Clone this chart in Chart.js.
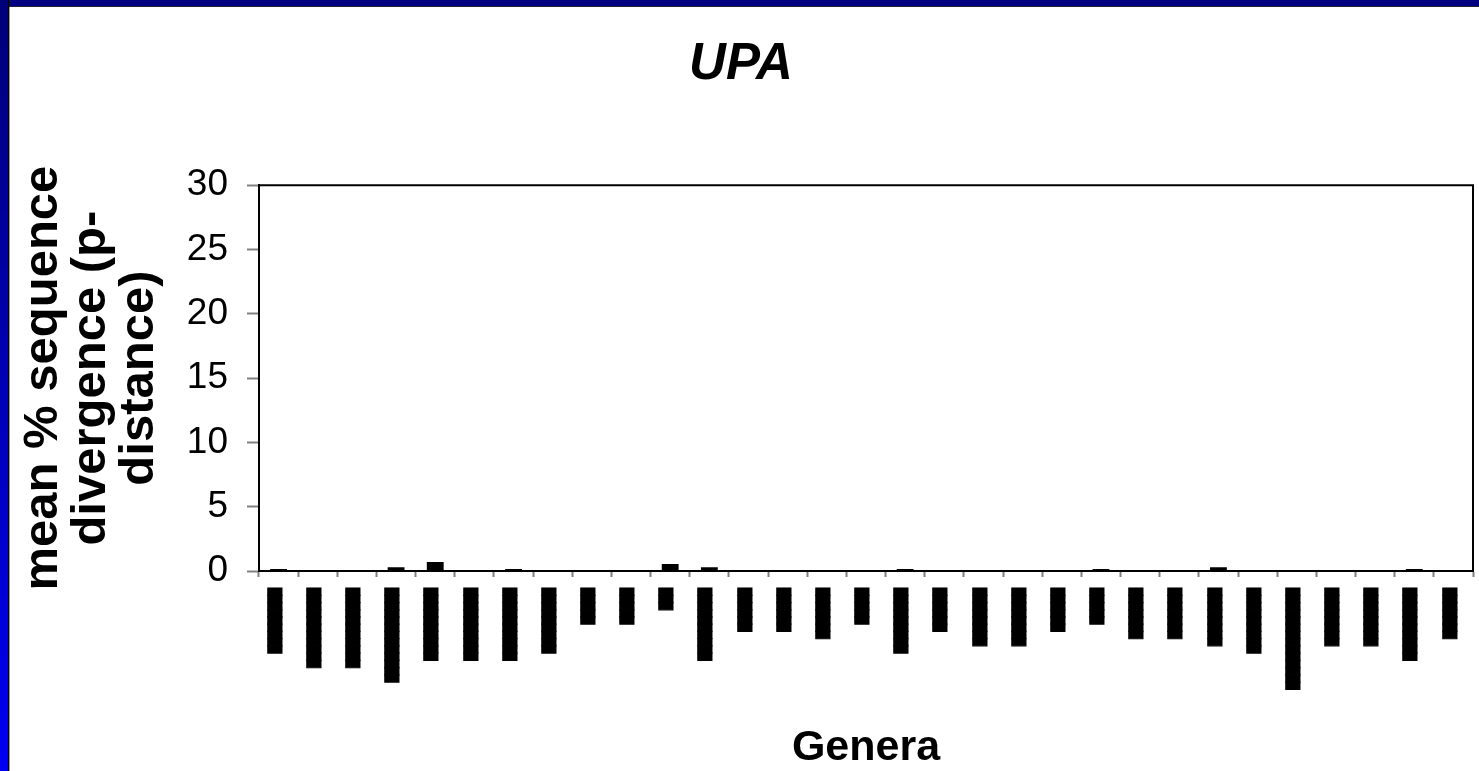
<!DOCTYPE html>
<html>
<head>
<meta charset="utf-8">
<script src="https://cdn.jsdelivr.net/npm/chart.js@4/dist/chart.umd.min.js"></script>
<style>
  html, body { margin: 0; padding: 0; }
  body { width: 1479px; height: 771px; overflow: hidden; background: #ffffff; position: relative; }
  #topband { position: absolute; left: 0; top: 0; width: 1479px; height: 6px; background: #000080; border-bottom: 1px solid #20203a; }
  #leftband { position: absolute; left: 0; top: 0; width: 8px; height: 771px; background: linear-gradient(#000078, #0000f2); border-right: 1px solid #000; }
  #leftline { position: absolute; left: 9px; top: 7px; width: 1px; height: 764px; background: #9a9a9a; }
  #wrap { position: absolute; left: 9px; top: 7px; width: 1470px; height: 764px; }
</style>
</head>
<body>
<div id="topband"></div>
<div id="leftband"></div>
<div id="leftline"></div>
<div id="wrap"><canvas id="c"></canvas></div>
<script>
// Chart title and axis titles
const chartTitle = 'UPA';
const yTitle = ['mean % sequence', 'divergence (p-', 'distance)'];
const xTitle = 'Genera';

// Genus names are illegible (blacked out) in the source; kept as block-character text
const generaLabels = [
  '█████████', '███████████', '███████████', '█████████████', '██████████',
  '██████████', '██████████', '█████████', '█████', '█████',
  '███', '██████████', '██████', '██████', '███████',
  '█████', '█████████', '██████', '████████', '████████',
  '██████', '█████', '███████', '███████', '████████',
  '█████████', '██████████████', '████████', '████████', '██████████',
  '███████'
];

// mean % sequence divergence per genus
const divergence = [
  0.15, 0, 0, 0.3, 0.7, 0, 0.15, 0, 0, 0,
  0.55, 0.3, 0, 0, 0, 0, 0.15, 0, 0, 0,
  0, 0.15, 0, 0, 0.3, 0, 0, 0, 0, 0.15,
  0
];

// y-axis tick values
const yTicks = [0, 5, 10, 15, 20, 25, 30];

const frame = {
  id: 'frame',
  afterDraw(chart) {
    const a = chart.chartArea, ctx = chart.ctx;
    ctx.save();
    ctx.strokeStyle = '#000';
    ctx.lineWidth = 2;
    ctx.beginPath();
    ctx.moveTo(a.left, a.top);
    ctx.lineTo(a.right, a.top);
    ctx.lineTo(a.right, a.bottom);
    ctx.stroke();
    ctx.restore();
  }
};

new Chart(document.getElementById('c'), {
  type: 'bar',
  data: {
    labels: generaLabels,
    datasets: [{
      data: divergence,
      backgroundColor: '#000',
      borderWidth: 0,
      barPercentage: 0.43,
      categoryPercentage: 1
    }]
  },
  options: {
    responsive: true,
    maintainAspectRatio: false,
    animation: false,
    layout: { padding: { top: 27, right: 6, left: 0, bottom: 0 } },
    plugins: {
      legend: { display: false },
      tooltip: { enabled: false },
      title: {
        display: true,
        text: chartTitle,
        color: '#000',
        font: { family: "'Liberation Sans', Arial, sans-serif", size: 51, weight: 'bold', style: 'italic' },
        padding: { top: 0, bottom: 90 }
      }
    },
    scales: {
      x: {
        grid: { offset: true, drawOnChartArea: false, drawTicks: true, tickLength: 6, tickColor: '#808080', tickWidth: 2 },
        border: { color: '#000', width: 2 },
        ticks: {
          autoSkip: false, minRotation: 90, maxRotation: 90,
          color: '#000', padding: 11, labelOffset: -3,
          textStrokeColor: '#000', textStrokeWidth: 1,
          font: { family: "'DejaVu Sans Mono', monospace", size: 12 }
        },
        title: {
          display: true, text: xTitle, color: '#000',
          font: { family: "'Liberation Sans', Arial, sans-serif", size: 43, weight: 'bold' },
          padding: { top: 0, bottom: -3 }
        },
        afterFit(scale) { scale.height = 200; }
      },
      y: {
        min: 0, max: 30,
        afterBuildTicks(scale) { scale.ticks = yTicks.map(v => ({ value: v })); },
        grid: { drawOnChartArea: false, drawTicks: true, tickLength: 12, tickColor: '#808080', tickWidth: 2 },
        border: { color: '#000', width: 2 },
        ticks: {
          color: '#000', padding: 19,
          font: { family: "'Liberation Sans', Arial, sans-serif", size: 37 }
        },
        title: {
          display: true, text: yTitle, color: '#000',
          font: { family: "'Liberation Sans', Arial, sans-serif", size: 49, weight: 'bold', lineHeight: 0.98 },
          padding: { top: 10, bottom: 0 }
        },
        afterFit(scale) { scale.width = 250; }
      }
    }
  },
  plugins: [frame]
});
</script>
</body>
</html>
